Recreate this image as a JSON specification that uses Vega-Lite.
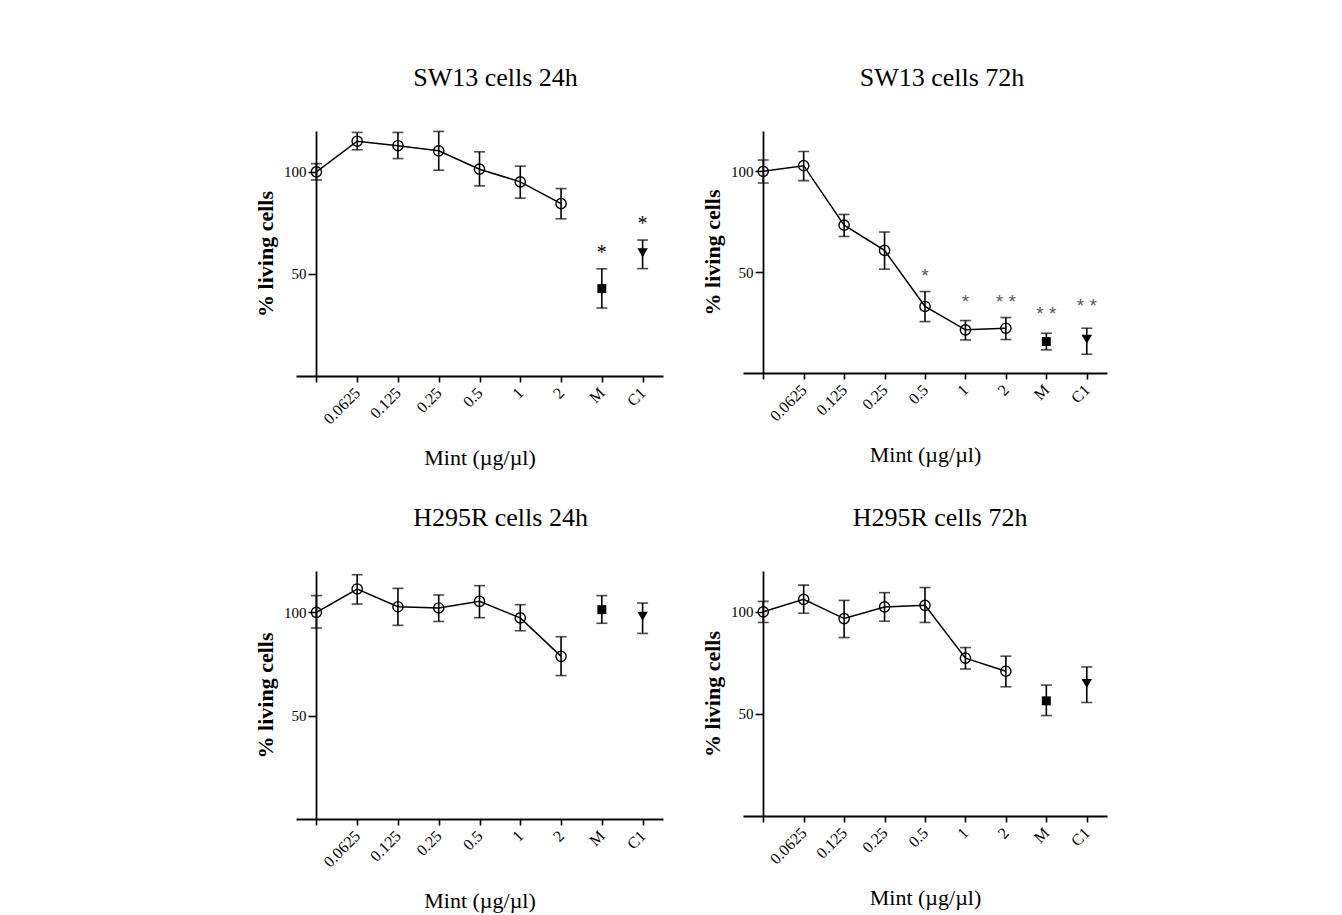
{
  "$schema": "https://vega.github.io/schema/vega-lite/v6.json",
  "padding": {"left": 254, "top": 64, "right": 5, "bottom": 5},
  "background": "white",
  "datasets": {
    "d": [
      {"panel": "SW13 cells 24h", "cat": "0", "mean": 100, "lo": 96, "hi": 104, "star": "", "starY": null},
      {"panel": "SW13 cells 24h", "cat": "0.0625", "mean": 115, "lo": 110.8, "hi": 119.3, "star": "", "starY": null},
      {"panel": "SW13 cells 24h", "cat": "0.125", "mean": 112.8, "lo": 106.5, "hi": 119.3, "star": "", "starY": null},
      {"panel": "SW13 cells 24h", "cat": "0.25", "mean": 110.3, "lo": 100.8, "hi": 119.8, "star": "", "starY": null},
      {"panel": "SW13 cells 24h", "cat": "0.5", "mean": 101.3, "lo": 93.1, "hi": 109.8, "star": "", "starY": null},
      {"panel": "SW13 cells 24h", "cat": "1", "mean": 95.1, "lo": 87.1, "hi": 102.8, "star": "", "starY": null},
      {"panel": "SW13 cells 24h", "cat": "2", "mean": 84.4, "lo": 77.0, "hi": 91.8, "star": "", "starY": null},
      {"panel": "SW13 cells 24h", "cat": "M", "mean": 42.8, "lo": 33.3, "hi": 52.5, "star": "*", "starY": 62},
      {"panel": "SW13 cells 24h", "cat": "C1", "mean": 60.3, "lo": 52.6, "hi": 66.6, "star": "*", "starY": 76.4},
      {"panel": "SW13 cells 72h", "cat": "0", "mean": 100, "lo": 94.2, "hi": 105.6, "star": "", "starY": null},
      {"panel": "SW13 cells 72h", "cat": "0.0625", "mean": 102.8, "lo": 95.4, "hi": 109.8, "star": "", "starY": null},
      {"panel": "SW13 cells 72h", "cat": "0.125", "mean": 73.3, "lo": 67.7, "hi": 78.6, "star": "", "starY": null},
      {"panel": "SW13 cells 72h", "cat": "0.25", "mean": 60.8, "lo": 51.5, "hi": 69.9, "star": "", "starY": null},
      {"panel": "SW13 cells 72h", "cat": "0.5", "mean": 33.0, "lo": 25.5, "hi": 40.4, "star": "*", "starY": 48.7},
      {"panel": "SW13 cells 72h", "cat": "1", "mean": 21.4, "lo": 16.4, "hi": 26.0, "star": "*", "starY": 35.5},
      {"panel": "SW13 cells 72h", "cat": "2", "mean": 22.2, "lo": 16.6, "hi": 27.5, "star": "* *", "starY": 35.5},
      {"panel": "SW13 cells 72h", "cat": "M", "mean": 15.6, "lo": 11.5, "hi": 19.7, "star": "* *", "starY": 30},
      {"panel": "SW13 cells 72h", "cat": "C1", "mean": 16.7, "lo": 9.3, "hi": 22.2, "star": "* *", "starY": 33.5},
      {"panel": "H295R cells 24h", "cat": "0", "mean": 100, "lo": 92.4, "hi": 108.1, "star": "", "starY": null},
      {"panel": "H295R cells 24h", "cat": "0.0625", "mean": 111.3, "lo": 104.0, "hi": 118.2, "star": "", "starY": null},
      {"panel": "H295R cells 24h", "cat": "0.125", "mean": 102.7, "lo": 93.7, "hi": 111.6, "star": "", "starY": null},
      {"panel": "H295R cells 24h", "cat": "0.25", "mean": 102.1, "lo": 95.6, "hi": 108.4, "star": "", "starY": null},
      {"panel": "H295R cells 24h", "cat": "0.5", "mean": 105.3, "lo": 97.4, "hi": 112.9, "star": "", "starY": null},
      {"panel": "H295R cells 24h", "cat": "1", "mean": 97.3, "lo": 91.1, "hi": 103.7, "star": "", "starY": null},
      {"panel": "H295R cells 24h", "cat": "2", "mean": 78.7, "lo": 69.4, "hi": 88.2, "star": "", "starY": null},
      {"panel": "H295R cells 24h", "cat": "M", "mean": 101.3, "lo": 94.7, "hi": 108.1, "star": "", "starY": null},
      {"panel": "H295R cells 24h", "cat": "C1", "mean": 98.1, "lo": 89.8, "hi": 104.5, "star": "", "starY": null},
      {"panel": "H295R cells 72h", "cat": "0", "mean": 100, "lo": 94.8, "hi": 105.1, "star": "", "starY": null},
      {"panel": "H295R cells 72h", "cat": "0.0625", "mean": 106.1, "lo": 99.3, "hi": 113.1, "star": "", "starY": null},
      {"panel": "H295R cells 72h", "cat": "0.125", "mean": 96.7, "lo": 87.4, "hi": 105.6, "star": "", "starY": null},
      {"panel": "H295R cells 72h", "cat": "0.25", "mean": 102.4, "lo": 95.4, "hi": 109.4, "star": "", "starY": null},
      {"panel": "H295R cells 72h", "cat": "0.5", "mean": 103.2, "lo": 94.8, "hi": 111.9, "star": "", "starY": null},
      {"panel": "H295R cells 72h", "cat": "1", "mean": 77.3, "lo": 72.0, "hi": 82.5, "star": "", "starY": null},
      {"panel": "H295R cells 72h", "cat": "2", "mean": 70.9, "lo": 63.3, "hi": 78.3, "star": "", "starY": null},
      {"panel": "H295R cells 72h", "cat": "M", "mean": 56.4, "lo": 49.2, "hi": 64.1, "star": "", "starY": null},
      {"panel": "H295R cells 72h", "cat": "C1", "mean": 64.9, "lo": 55.6, "hi": 73.0, "star": "", "starY": null}
    ]
  },
  "data": {"name": "d"},
  "columns": 2,
  "bounds": "flush",
  "spacing": {"column": 80, "row": 195},
  "concat": [
    {
      "title": {"text": "SW13 cells 24h", "dx": 16},
      "width": 367, "height": 245,
      "transform": [{"filter": "datum.panel == 'SW13 cells 24h'"}],
      "encoding": {"x": {"field": "cat", "type": "ordinal", "sort": ["0","0.0625","0.125","0.25","0.5","1","2","M","C1"], "scale": {"type": "point", "padding": 0.5}, "title": "Mint (µg/µl)", "axis": {"labelExpr": "datum.value == '0' ? '' : datum.value"}}},
      "layer": [
        {"transform": [{"filter": "datum.cat != 'M' && datum.cat != 'C1'"}], "mark": {"type": "line", "color": "black", "strokeWidth": 1.5}, "encoding": {"y": {"field": "mean", "type": "quantitative", "scale": {"domain": [0, 120], "nice": false}, "title": "% living cells", "axis": {"values": [50, 100], "offset": -20}}}},
        {"mark": {"type": "rule", "color": "black", "strokeWidth": 1.6}, "encoding": {"y": {"field": "lo", "type": "quantitative", "title": "% living cells"}, "y2": {"field": "hi"}}},
        {"mark": {"type": "tick", "color": "black", "size": 11, "thickness": 1.6}, "encoding": {"y": {"field": "lo", "type": "quantitative", "title": "% living cells"}}},
        {"mark": {"type": "tick", "color": "black", "size": 11, "thickness": 1.6}, "encoding": {"y": {"field": "hi", "type": "quantitative", "title": "% living cells"}}},
        {"transform": [{"filter": "datum.cat != 'M' && datum.cat != 'C1'"}], "mark": {"type": "point", "shape": "circle", "filled": false, "stroke": "black", "strokeWidth": 1.4, "size": 105, "opacity": 1}, "encoding": {"y": {"field": "mean", "type": "quantitative", "title": "% living cells"}}},
        {"transform": [{"filter": "datum.cat == 'M'"}], "mark": {"type": "square", "color": "black", "size": 80, "opacity": 1}, "encoding": {"y": {"field": "mean", "type": "quantitative", "title": "% living cells"}}},
        {"transform": [{"filter": "datum.cat == 'C1'"}], "mark": {"type": "point", "shape": "triangle-down", "filled": true, "color": "black", "size": 110, "opacity": 1}, "encoding": {"y": {"field": "mean", "type": "quantitative", "title": "% living cells"}}},
        {"transform": [{"filter": "datum.star != ''"}], "mark": {"type": "text", "font": "Liberation Serif", "fontSize": 20, "color": "black", "baseline": "middle", "dy": 4}, "encoding": {"y": {"field": "starY", "type": "quantitative", "title": "% living cells"}, "text": {"field": "star"}}}
      ]
    },
    {
      "title": {"text": "SW13 cells 72h", "dx": 17},
      "width": 364, "height": 242,
      "transform": [{"filter": "datum.panel == 'SW13 cells 72h'"}],
      "encoding": {"x": {"field": "cat", "type": "ordinal", "sort": ["0","0.0625","0.125","0.25","0.5","1","2","M","C1"], "scale": {"type": "point", "padding": 0.5}, "title": "Mint (µg/µl)", "axis": {"labelExpr": "datum.value == '0' ? '' : datum.value"}}},
      "layer": [
        {"transform": [{"filter": "datum.cat != 'M' && datum.cat != 'C1'"}], "mark": {"type": "line", "color": "black", "strokeWidth": 1.5}, "encoding": {"y": {"field": "mean", "type": "quantitative", "scale": {"domain": [0, 120], "nice": false}, "title": "% living cells", "axis": {"values": [50, 100], "offset": -20}}}},
        {"mark": {"type": "rule", "color": "black", "strokeWidth": 1.6}, "encoding": {"y": {"field": "lo", "type": "quantitative", "title": "% living cells"}, "y2": {"field": "hi"}}},
        {"mark": {"type": "tick", "color": "black", "size": 11, "thickness": 1.6}, "encoding": {"y": {"field": "lo", "type": "quantitative", "title": "% living cells"}}},
        {"mark": {"type": "tick", "color": "black", "size": 11, "thickness": 1.6}, "encoding": {"y": {"field": "hi", "type": "quantitative", "title": "% living cells"}}},
        {"transform": [{"filter": "datum.cat != 'M' && datum.cat != 'C1'"}], "mark": {"type": "point", "shape": "circle", "filled": false, "stroke": "black", "strokeWidth": 1.4, "size": 105, "opacity": 1}, "encoding": {"y": {"field": "mean", "type": "quantitative", "title": "% living cells"}}},
        {"transform": [{"filter": "datum.cat == 'M'"}], "mark": {"type": "square", "color": "black", "size": 80, "opacity": 1}, "encoding": {"y": {"field": "mean", "type": "quantitative", "title": "% living cells"}}},
        {"transform": [{"filter": "datum.cat == 'C1'"}], "mark": {"type": "point", "shape": "triangle-down", "filled": true, "color": "black", "size": 110, "opacity": 1}, "encoding": {"y": {"field": "mean", "type": "quantitative", "title": "% living cells"}}},
        {"transform": [{"filter": "datum.star != ''"}], "mark": {"type": "text", "font": "Liberation Sans", "fontSize": 19, "color": "#5a5a5a", "baseline": "middle", "dy": 1}, "encoding": {"y": {"field": "starY", "type": "quantitative", "title": "% living cells"}, "text": {"field": "star"}}}
      ]
    },
    {
      "title": {"text": "H295R cells 24h", "dx": 21},
      "width": 367, "height": 248,
      "transform": [{"filter": "datum.panel == 'H295R cells 24h'"}],
      "encoding": {"x": {"field": "cat", "type": "ordinal", "sort": ["0","0.0625","0.125","0.25","0.5","1","2","M","C1"], "scale": {"type": "point", "padding": 0.5}, "title": "Mint (µg/µl)", "axis": {"labelExpr": "datum.value == '0' ? '' : datum.value"}}},
      "layer": [
        {"transform": [{"filter": "datum.cat != 'M' && datum.cat != 'C1'"}], "mark": {"type": "line", "color": "black", "strokeWidth": 1.5}, "encoding": {"y": {"field": "mean", "type": "quantitative", "scale": {"domain": [0, 120], "nice": false}, "title": "% living cells", "axis": {"values": [50, 100], "offset": -20}}}},
        {"mark": {"type": "rule", "color": "black", "strokeWidth": 1.6}, "encoding": {"y": {"field": "lo", "type": "quantitative", "title": "% living cells"}, "y2": {"field": "hi"}}},
        {"mark": {"type": "tick", "color": "black", "size": 11, "thickness": 1.6}, "encoding": {"y": {"field": "lo", "type": "quantitative", "title": "% living cells"}}},
        {"mark": {"type": "tick", "color": "black", "size": 11, "thickness": 1.6}, "encoding": {"y": {"field": "hi", "type": "quantitative", "title": "% living cells"}}},
        {"transform": [{"filter": "datum.cat != 'M' && datum.cat != 'C1'"}], "mark": {"type": "point", "shape": "circle", "filled": false, "stroke": "black", "strokeWidth": 1.4, "size": 105, "opacity": 1}, "encoding": {"y": {"field": "mean", "type": "quantitative", "title": "% living cells"}}},
        {"transform": [{"filter": "datum.cat == 'M'"}], "mark": {"type": "square", "color": "black", "size": 80, "opacity": 1}, "encoding": {"y": {"field": "mean", "type": "quantitative", "title": "% living cells"}}},
        {"transform": [{"filter": "datum.cat == 'C1'"}], "mark": {"type": "point", "shape": "triangle-down", "filled": true, "color": "black", "size": 110, "opacity": 1}, "encoding": {"y": {"field": "mean", "type": "quantitative", "title": "% living cells"}}}
      ]
    },
    {
      "title": {"text": "H295R cells 72h", "dx": 15},
      "width": 364, "height": 245,
      "transform": [{"filter": "datum.panel == 'H295R cells 72h'"}],
      "encoding": {"x": {"field": "cat", "type": "ordinal", "sort": ["0","0.0625","0.125","0.25","0.5","1","2","M","C1"], "scale": {"type": "point", "padding": 0.5}, "title": "Mint (µg/µl)", "axis": {"labelExpr": "datum.value == '0' ? '' : datum.value"}}},
      "layer": [
        {"transform": [{"filter": "datum.cat != 'M' && datum.cat != 'C1'"}], "mark": {"type": "line", "color": "black", "strokeWidth": 1.5}, "encoding": {"y": {"field": "mean", "type": "quantitative", "scale": {"domain": [0, 120], "nice": false}, "title": "% living cells", "axis": {"values": [50, 100], "offset": -20}}}},
        {"mark": {"type": "rule", "color": "black", "strokeWidth": 1.6}, "encoding": {"y": {"field": "lo", "type": "quantitative", "title": "% living cells"}, "y2": {"field": "hi"}}},
        {"mark": {"type": "tick", "color": "black", "size": 11, "thickness": 1.6}, "encoding": {"y": {"field": "lo", "type": "quantitative", "title": "% living cells"}}},
        {"mark": {"type": "tick", "color": "black", "size": 11, "thickness": 1.6}, "encoding": {"y": {"field": "hi", "type": "quantitative", "title": "% living cells"}}},
        {"transform": [{"filter": "datum.cat != 'M' && datum.cat != 'C1'"}], "mark": {"type": "point", "shape": "circle", "filled": false, "stroke": "black", "strokeWidth": 1.4, "size": 105, "opacity": 1}, "encoding": {"y": {"field": "mean", "type": "quantitative", "title": "% living cells"}}},
        {"transform": [{"filter": "datum.cat == 'M'"}], "mark": {"type": "square", "color": "black", "size": 80, "opacity": 1}, "encoding": {"y": {"field": "mean", "type": "quantitative", "title": "% living cells"}}},
        {"transform": [{"filter": "datum.cat == 'C1'"}], "mark": {"type": "point", "shape": "triangle-down", "filled": true, "color": "black", "size": 110, "opacity": 1}, "encoding": {"y": {"field": "mean", "type": "quantitative", "title": "% living cells"}}}
      ]
    }
  ],
  "config": {
    "view": {"stroke": null},
    "font": "Liberation Serif",
    "axis": {"grid": false, "domainColor": "black", "domainWidth": 1.8, "tickColor": "black", "tickWidth": 1.6, "labelColor": "black", "labelFont": "Liberation Serif", "titleColor": "black", "titleFont": "Liberation Serif"},
    "axisX": {"labelAngle": -45, "labelAlign": "right", "labelBaseline": "middle", "labelFontSize": 16, "tickSize": 6, "labelPadding": 8, "titleFontSize": 22, "titleFontWeight": "normal", "titlePadding": 21},
    "axisY": {"tickSize": 8, "labelPadding": 2, "labelFontSize": 15, "titleFontSize": 22, "titleFontWeight": "bold", "titlePadding": 6},
    "title": {"font": "Liberation Serif", "fontSize": 26, "fontWeight": "normal", "color": "black", "frame": "group", "anchor": "middle", "baseline": "alphabetic", "offset": 40}
  }
}
